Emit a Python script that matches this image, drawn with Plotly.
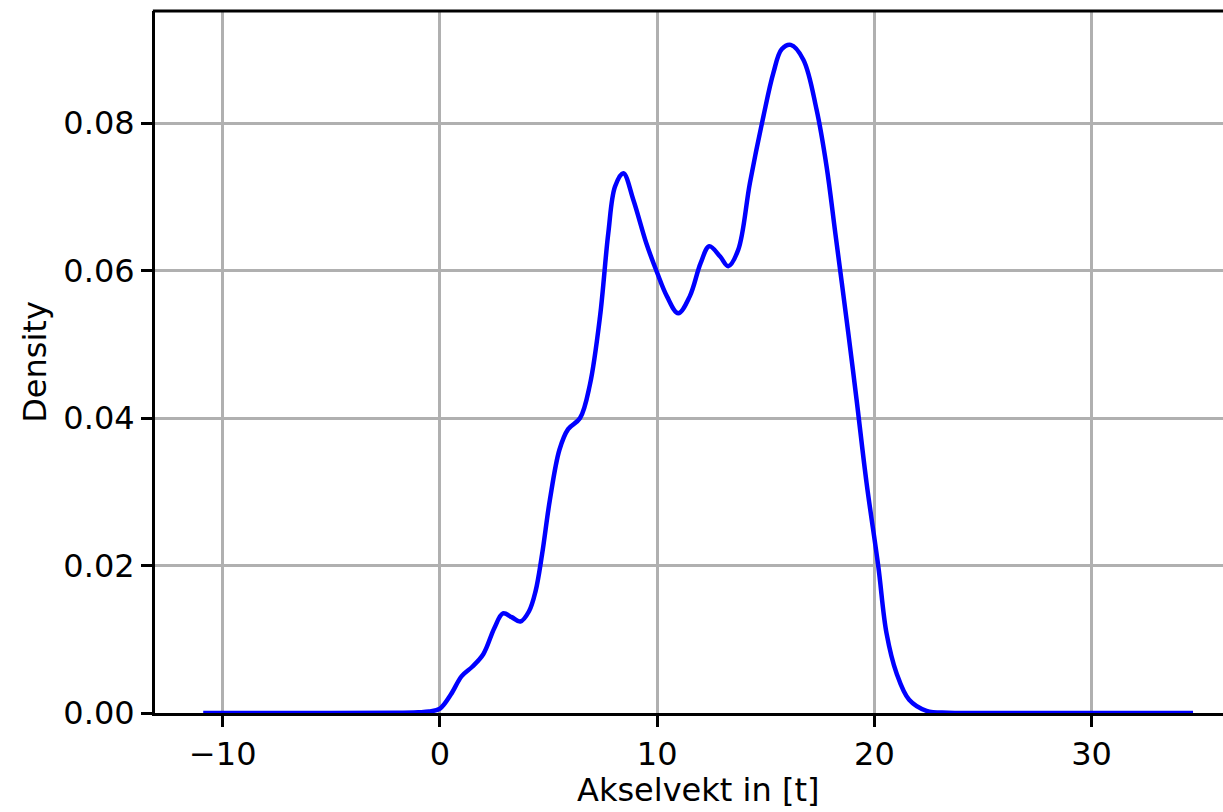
import plotly.graph_objects as go

# Kernel density estimate of axle weight (tonnes)
akselvekt_t = [-10.9, -5.0, -2.0, -1.0, -0.5, 0.0, 0.5, 1.0, 1.5, 2.0, 2.5, 2.9,
               3.3, 3.7, 4.1, 4.4, 4.7, 5.06, 5.5, 5.9, 6.45, 6.9, 7.37, 7.75,
               8.06, 8.44, 8.9, 9.5, 10.0, 10.45, 10.97, 11.5, 12.0, 12.4, 12.9,
               13.27, 13.73, 14.27, 14.89, 15.35, 15.73, 16.15, 16.73, 17.34,
               17.8, 18.2, 18.8, 19.18, 19.64, 20.18, 20.56, 21.02, 21.6, 22.4,
               23.4, 25.0, 34.67]
density = [0.0, 0.0, 0.00002, 0.0001, 0.0002, 0.0006, 0.0025, 0.0050, 0.0063,
           0.0080, 0.0115, 0.0135, 0.0130, 0.0124, 0.0138, 0.0165, 0.0215,
           0.0289, 0.0357, 0.0385, 0.0400, 0.0445, 0.0538, 0.0651, 0.0714,
           0.0732, 0.0696, 0.0637, 0.0597, 0.0565, 0.0542, 0.0565, 0.0610,
           0.0633, 0.0619, 0.0606, 0.0628, 0.0719, 0.0809, 0.0868, 0.0900,
           0.0906, 0.0886, 0.0818, 0.0741, 0.0651, 0.0515, 0.0425, 0.0312,
           0.0199, 0.0108, 0.0054, 0.0018, 0.0003, 0.00003, 0.0, 0.0]

x_ticks = [-10, 0, 10, 20, 30]
x_tick_labels = ["\u221210", "0", "10", "20", "30"]
y_ticks = [0.0, 0.02, 0.04, 0.06, 0.08]
y_tick_labels = ["0.00", "0.02", "0.04", "0.06", "0.08"]

FONT = "DejaVu Sans"
FSIZE = 32

fig = go.Figure()
fig.add_trace(go.Scatter(
    x=akselvekt_t, y=density, mode="lines",
    line=dict(color="#0000ff", width=4.5, shape="spline", smoothing=1.0),
    showlegend=False, hoverinfo="skip",
))

# top spine (no right spine)
fig.add_shape(type="line", xref="paper", yref="paper", x0=-0.002, x1=1.01, y0=1, y1=1,
              line=dict(color="black", width=3), layer="above")

# x-axis title placed as an annotation below the tick labels
fig.add_annotation(text="Akselvekt in [t]", xref="x", yref="paper",
                   x=11.88, y=-0.109, xanchor="center", yanchor="middle",
                   showarrow=False, font=dict(family=FONT, size=FSIZE, color="black"))

fig.update_layout(
    width=1223, height=812,
    margin=dict(l=155, r=0, t=11, b=99),
    paper_bgcolor="white", plot_bgcolor="white",
    font=dict(family=FONT, size=FSIZE, color="black"),
)
fig.update_xaxes(
    range=[-13.12, 36.05],
    tickvals=x_ticks, ticktext=x_tick_labels,
    showgrid=True, gridcolor="#b0b0b0", gridwidth=2.5,
    zeroline=False,
    showline=True, linecolor="black", linewidth=3, mirror=False,
    ticks="outside", ticklen=11, tickwidth=2.5, tickcolor="black",
    tickfont=dict(family=FONT, size=FSIZE),
)
fig.update_yaxes(
    range=[0, 0.0952],
    tickvals=y_ticks, ticktext=y_tick_labels,
    showgrid=True, gridcolor="#b0b0b0", gridwidth=2.5,
    zeroline=False,
    showline=True, linecolor="black", linewidth=3,
    ticks="outside", ticklen=11, tickwidth=2.5, tickcolor="black",
    title=dict(text="Density", font=dict(family=FONT, size=FSIZE), standoff=8),
    tickfont=dict(family=FONT, size=FSIZE),
)

fig.write_html("out.html")
